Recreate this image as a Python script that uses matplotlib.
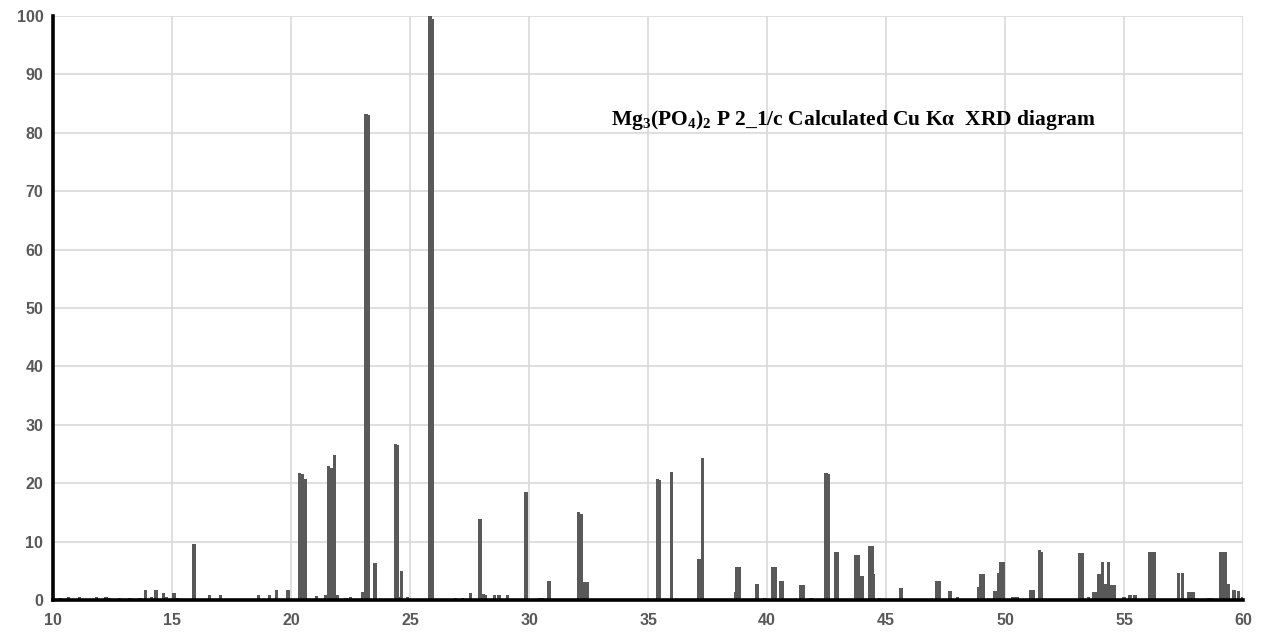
"""
Расчётная рентгенограмма Mg3(PO4)2 (Cu Kα), столбцы по пикам 2θ.
"""
import matplotlib
matplotlib.use("Agg")
import matplotlib.pyplot as plt

# положение пика 2θ, град.
two_theta = [
    10.30, 10.64, 11.10, 11.50, 11.83, 12.22, 12.35, 12.79, 13.23, 13.65,
    13.89, 14.14, 14.32, 14.63, 14.75, 15.08, 15.20, 15.92, 16.57, 17.02,
    17.60, 18.10, 18.62, 19.10, 19.38, 19.87,
    20.36, 20.46, 20.58, 21.06, 21.44, 21.57, 21.68, 21.81, 21.95, 22.30,
    22.50, 23.02, 23.14, 23.24, 23.53, 24.00, 24.38, 24.48, 24.52, 24.65,
    24.88, 25.20, 25.50, 25.84, 25.94, 26.30, 26.60, 26.90, 27.20, 27.54,
    27.94, 28.07, 28.17, 28.55, 28.74, 29.10, 29.87, 30.45, 30.55, 30.84,
    32.08, 32.18, 32.34, 32.44, 34.80, 35.39, 35.49, 35.98, 37.14, 37.28,
    37.61, 38.66, 38.74, 38.84, 39.58, 39.90, 40.24, 40.34, 40.56, 40.66,
    41.00, 41.42, 41.52, 41.85, 42.47, 42.57, 42.86, 42.96, 43.72, 43.82,
    43.98, 44.30, 44.40, 44.47, 44.72, 45.20, 45.63, 46.75, 47.14, 47.24,
    47.68, 48.00, 48.87, 48.97, 49.07, 49.57, 49.74, 49.82, 49.92, 50.30,
    50.42, 50.52, 51.07, 51.17, 51.44, 51.54, 53.15, 53.25, 53.50, 53.73,
    53.83, 53.95, 54.10, 54.20, 54.34, 54.47, 54.57, 55.00, 55.25, 55.46,
    56.09, 56.26, 57.28, 57.44, 57.72, 57.82, 57.92, 58.55, 58.68, 59.07,
    59.15, 59.24, 59.36, 59.62, 59.81, 60.00,
]

# относительная интенсивность, %
intensity = [
    0.3, 0.5, 0.5, 0.2, 0.5, 0.6, 0.3, 0.3, 0.3, 0.4,
    1.75, 0.5, 1.75, 1.2, 0.6, 1.2, 0.4, 9.6, 0.9, 0.9,
    0.2, 0.2, 0.9, 0.9, 1.7, 1.8,
    21.8, 21.5, 20.7, 0.7, 0.9, 22.9, 22.6, 24.9, 0.9, 0.3,
    0.5, 1.4, 83.2, 83.0, 6.4, 0.2, 26.7, 26.5, 0.6, 4.9,
    0.6, 0.2, 0.2, 100.0, 99.5, 0.2, 0.2, 0.4, 0.3, 1.2,
    13.8, 1.1, 0.9, 0.9, 0.9, 0.9, 18.5, 0.4, 0.4, 3.3,
    15.0, 14.8, 3.1, 3.1, 0.2, 20.7, 20.5, 22.0, 7.0, 24.4,
    0.2, 1.3, 5.7, 5.7, 2.8, 0.4, 5.7, 5.7, 3.3, 3.3,
    0.2, 2.5, 2.5, 0.4, 21.8, 21.5, 8.3, 8.3, 7.7, 7.7,
    4.1, 9.3, 9.3, 4.4, 0.4, 0.2, 2.0, 0.2, 3.3, 3.3,
    1.5, 0.5, 2.3, 4.4, 4.4, 1.5, 4.6, 6.6, 6.6, 0.5,
    0.5, 0.5, 1.7, 1.7, 8.5, 8.3, 8.0, 8.0, 0.6, 1.3,
    1.3, 4.4, 6.6, 2.7, 6.6, 2.5, 2.5, 0.5, 0.8, 0.8,
    8.2, 8.2, 4.6, 4.6, 1.3, 1.3, 1.3, 0.4, 0.4, 8.2,
    2.8, 8.2, 2.8, 1.7, 1.5, 0.6,
]

plt.rcParams["mathtext.fontset"] = "custom"
plt.rcParams["mathtext.rm"] = "Liberation Serif:bold"
plt.rcParams["mathtext.it"] = "Liberation Serif:bold"
plt.rcParams["mathtext.bf"] = "Liberation Serif:bold"

fig = plt.figure(figsize=(12.64, 6.35), dpi=100)
ax = fig.add_axes([0.042, 0.055, 0.9415, 0.92])

ax.bar(two_theta, intensity, width=0.14, color="#595959", edgecolor="none", zorder=3)

ax.set_xlim(10, 60)
ax.set_ylim(0, 100)
ax.set_xticks(range(10, 61, 5))
ax.set_yticks(range(0, 101, 10))
ax.grid(True, color="#d9d9d9", linewidth=1.2, zorder=0)
ax.set_axisbelow(True)

for s in ("top", "right"):
    ax.spines[s].set_visible(False)
for s in ("left", "bottom"):
    ax.spines[s].set_color("black")
    ax.spines[s].set_linewidth(2.6)
    ax.spines[s].set_zorder(4)

ax.tick_params(axis="x", length=0, pad=9, labelcolor="#595959")
ax.tick_params(axis="y", length=0, pad=7, labelcolor="#595959")
for lbl in ax.get_xticklabels() + ax.get_yticklabels():
    lbl.set_fontfamily("Liberation Sans")
    lbl.set_fontweight("bold")
    lbl.set_fontsize(11.5)

ax.text(33.45, 82.2, "Mg$_3$(PO$_4$)$_2$ P 2_1/c Calculated Cu Kα  XRD diagram",
        family="Liberation Serif", fontweight="bold", fontsize=15.5,
        ha="left", va="center", zorder=5)

fig.savefig("out.png", dpi=100)
